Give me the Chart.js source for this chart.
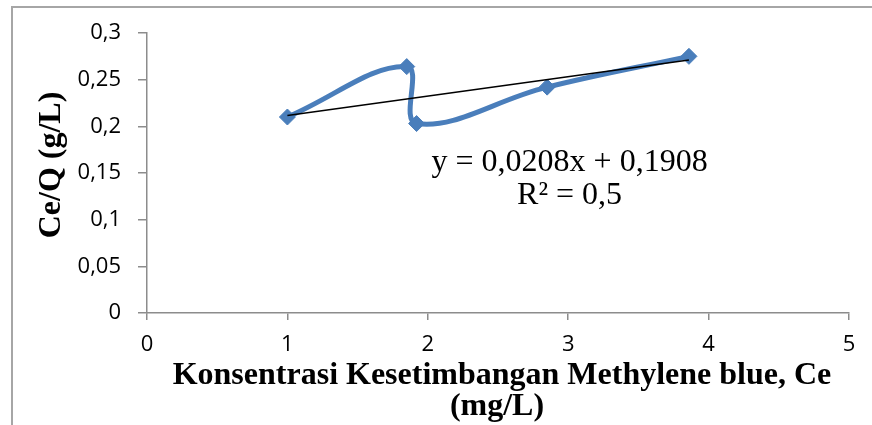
<!DOCTYPE html>
<html>
<head>
<meta charset="utf-8">
<script src="https://cdn.jsdelivr.net/npm/chart.js@4.4.1/dist/chart.umd.min.js"></script>
<style>
  body { margin: 0; overflow: hidden; background: #fff; }
  #frame { position: absolute; left: 11px; top: 6px; width: 900px; height: 450px; border: 2px solid #a6a6a6; }
  #wrap { position: absolute; left: 0; top: 0; width: 872px; height: 425px; }
</style>
</head>
<body>
<div id="frame"></div>
<div id="wrap"><canvas id="Chart" width="872" height="425"></canvas></div>
<script>
// data
var ceValues = [1.0, 1.85, 1.92, 2.85, 3.86];
var ceqValues = [0.21, 0.264, 0.203, 0.242, 0.275];
var trendX = [1.0, 3.86];
var trendY = [0.2116, 0.2711];
var xTickLabels = ['0', '1', '2', '3', '4', '5'];
var yTickLabels = ['0', '0,05', '0,1', '0,15', '0,2', '0,25', '0,3'];
var equationText = ['y = 0,0208x + 0,1908', 'R\u00b2 = 0,5'];
var xTitle = ['Konsentrasi Kesetimbangan Methylene blue, Ce', '(mg/L)'];
var yTitle = 'Ce/Q (g/L)';

function toPoints(xs, ys) {
  var pts = [];
  for (var i = 0; i < xs.length; i++) pts.push({x: xs[i], y: ys[i]});
  return pts;
}

var tickFont = {family: 'Open Sans', size: 22};
var serif = 'Liberation Serif';

var textPlugin = {
  id: 'texts',
  afterDraw: function(chart) {
    var ctx = chart.ctx;
    var xs = chart.scales.x, ys = chart.scales.y;
    ctx.save();
    ctx.fillStyle = '#000';
    ctx.textAlign = 'center';
    ctx.textBaseline = 'alphabetic';

    // trendline label
    ctx.font = '32px "' + serif + '"';
    var lx = xs.getPixelForValue(3.01);
    var ly = ys.getPixelForValue(0.164);
    ctx.fillText(equationText[0], lx, ly + 11);
    ctx.fillText(equationText[1], lx, ly + 44);

    // x title
    ctx.font = 'bold 32px "' + serif + '"';
    ctx.fillText(xTitle[0], 502, 384);
    ctx.fillText(xTitle[1], 497, 415);

    // y title
    ctx.translate(60, 165);
    ctx.rotate(-Math.PI / 2);
    ctx.fillText(yTitle, 0, 0);
    ctx.restore();
  }
};

var ctx = document.getElementById('Chart').getContext('2d');
var chart = new Chart(ctx, {
  type: 'scatter',
  data: {
    datasets: [{
      data: toPoints(ceValues, ceqValues),
      showLine: true,
      tension: 0.4,
      borderColor: '#4a7ebb',
      backgroundColor: '#4a7ebb',
      borderWidth: 5,
      pointStyle: 'rectRot',
      pointRadius: 8,
      pointBorderWidth: 1,
      order: 2
    }, {
      data: toPoints(trendX, trendY),
      showLine: true,
      borderColor: '#000',
      borderWidth: 1.5,
      pointRadius: 0,
      order: 1
    }]
  },
  options: {
    responsive: false,
    animation: false,
    layout: { padding: {top: 33, right: 23, left: 0, bottom: 0} },
    plugins: { legend: {display: false}, tooltip: {enabled: false} },
    scales: {
      x: {
        min: 0, max: 5,
        afterFit: function(scale) { scale.height = 112; },
        ticks: {
          stepSize: 1, color: '#000', font: tickFont, padding: 12, maxRotation: 0,
          callback: function(v, i) { return xTickLabels[i]; }
        },
        grid: { drawOnChartArea: false, tickLength: 7, color: '#8c8c8c', lineWidth: 1.5 },
        border: { color: '#8c8c8c', width: 1.5 }
      },
      y: {
        min: 0, max: 0.3,
        afterFit: function(scale) { scale.width = 147; },
        ticks: {
          stepSize: 0.05, color: '#000', font: tickFont, padding: 17,
          callback: function(v, i) { return yTickLabels[i]; }
        },
        grid: { drawOnChartArea: false, tickLength: 9, color: '#8c8c8c', lineWidth: 1.5 },
        border: { color: '#8c8c8c', width: 1.5 }
      }
    }
  },
  plugins: [textPlugin]
});
</script>
</body>
</html>
